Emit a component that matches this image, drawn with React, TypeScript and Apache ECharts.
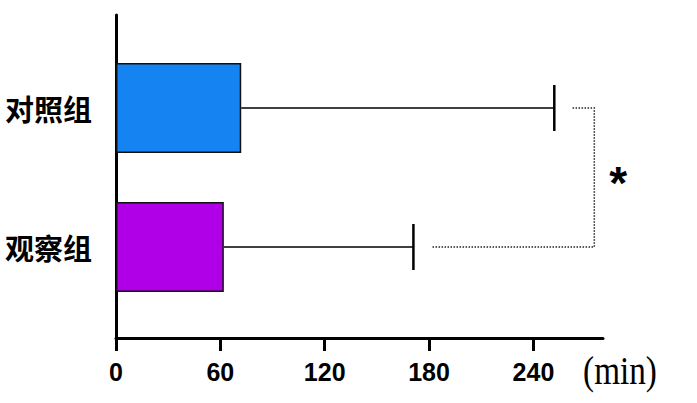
import React, { useEffect, useRef } from "react";
import * as echarts from "echarts";

const categories = ["观察组", "对照组"];
const meanValues = [62, 72];
const upperValues = [171, 252];
const barColors = ["#B000E8", "#1683F3"];
const tickValues = [0, 60, 120, 180, 240];
const axisMax = 280;
const unitLabel = "(min)";
// significance bracket: start of each dotted arm, bracket position, marker
const bracketStarts = [182, 262];
const bracketAt = 275;
const sigMark = "*";

export default function App() {
  const ref = useRef<HTMLDivElement>(null);
  useEffect(() => {
    if (!ref.current) return;
    const chart = echarts.init(ref.current, undefined, { renderer: "svg" });
    const gridLeft = 116;
    const gridWidth = 487;
    const option: any = {
      animation: false,
      backgroundColor: "#ffffff",
      grid: [
        { left: gridLeft, top: 15, width: gridWidth, height: 323 },
        { left: gridLeft, top: 38.5, width: gridWidth, height: 278 },
      ],
      xAxis: [
        {
          type: "value",
          gridIndex: 0,
          min: 0,
          max: axisMax,
          interval: 60,
          splitLine: { show: false },
          axisLine: { show: true, lineStyle: { color: "#000", width: 3 } },
          axisTick: {
            show: true,
            length: 13,
            customValues: tickValues,
            lineStyle: { color: "#000", width: 3 },
          },
          axisLabel: {
            customValues: tickValues,
            margin: 21,
            color: "#000",
            fontSize: 25,
            fontWeight: "bold",
            fontFamily: "'Liberation Sans Narrow', 'Arial Narrow', 'Liberation Sans', sans-serif",
          },
        },
        {
          type: "value",
          gridIndex: 1,
          min: 0,
          max: axisMax,
          show: false,
        },
      ],
      yAxis: [
        {
          type: "value",
          gridIndex: 0,
          min: 0,
          max: 1,
          splitLine: { show: false },
          axisLabel: { show: false },
          axisTick: { show: false },
          axisLine: { show: true, lineStyle: { color: "#000", width: 3 } },
        },
        {
          type: "category",
          gridIndex: 1,
          data: categories,
          axisLine: { show: false },
          axisTick: { show: false },
          axisLabel: {
            margin: 24,
            color: "#000",
            fontSize: 29,
            fontWeight: "bold",
            fontFamily: "'Noto Sans CJK SC', sans-serif",
          },
        },
      ],
      series: [
        {
          type: "bar",
          xAxisIndex: 1,
          yAxisIndex: 1,
          barWidth: 90,
          data: meanValues.map((v, i) => ({
            value: v,
            itemStyle: { color: barColors[i], borderColor: "#111", borderWidth: 1.5 },
          })),
        },
        {
          type: "custom",
          xAxisIndex: 1,
          yAxisIndex: 1,
          data: meanValues.map((m, i) => [m, upperValues[i], i]),
          renderItem: (params: any, api: any) => {
            const s = api.coord([api.value(0), api.value(2)]);
            const e = api.coord([api.value(1), api.value(2)]);
            const half = 23;
            return {
              type: "group",
              children: [
                {
                  type: "line",
                  shape: { x1: s[0], y1: s[1], x2: e[0], y2: e[1] },
                  style: { stroke: "#000", lineWidth: 1.5 },
                },
                {
                  type: "line",
                  shape: { x1: e[0], y1: e[1] - half, x2: e[0], y2: e[1] + half },
                  style: { stroke: "#000", lineWidth: 2.5 },
                },
              ],
            };
          },
          z: 3,
        },
        {
          type: "custom",
          xAxisIndex: 1,
          yAxisIndex: 1,
          data: [[bracketStarts[0], bracketStarts[1], bracketAt]],
          renderItem: (params: any, api: any) => {
            const a = api.coord([api.value(0), 0]);
            const b = api.coord([api.value(2), 0]);
            const c = api.coord([api.value(2), 1]);
            const d = api.coord([api.value(1), 1]);
            const midY = (b[1] + c[1]) / 2;
            return {
              type: "group",
              children: [
                {
                  type: "polyline",
                  shape: { points: [a, b, c, d] },
                  style: { stroke: "#222", lineWidth: 1.5, lineDash: [1.5, 1.5], fill: "none" },
                },
                {
                  type: "text",
                  x: b[0] + 24,
                  y: midY + 5,
                  style: {
                    text: sigMark,
                    fill: "#000",
                    fontSize: 46,
                    fontWeight: "bold",
                    fontFamily: "'Liberation Sans', Arial, sans-serif",
                    align: "center",
                    verticalAlign: "middle",
                  },
                },
              ],
            };
          },
          z: 3,
        },
      ],
      graphic: [
        {
          type: "text",
          x: 620,
          y: 370,
          scaleX: 0.83,
          style: {
            text: unitLabel,
            fill: "#000",
            fontSize: 40,
            fontFamily: "'Liberation Serif', 'Times New Roman', serif",
            align: "center",
            verticalAlign: "middle",
          },
        },
      ],
    };
    chart.setOption(option);
    return () => chart.dispose();
  }, []);
  return <div ref={ref} style={{ width: 697, height: 403, position: "absolute", left: 0, top: 0 }} />;
}
